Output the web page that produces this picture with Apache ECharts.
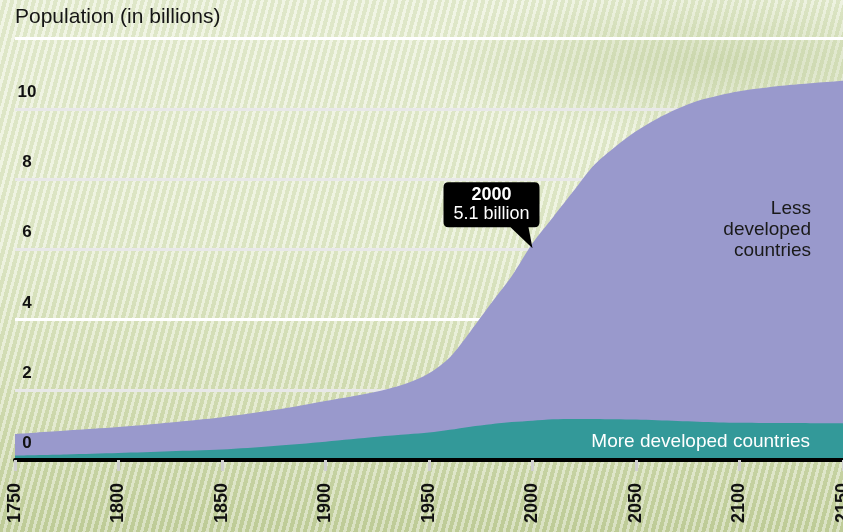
<!DOCTYPE html>
<html>
<head>
<meta charset="utf-8">
<script src="https://cdn.jsdelivr.net/npm/echarts@6/dist/echarts.min.js"></script>
<style>
  html, body { margin: 0; padding: 0; }
  #chart {
    width: 843px; height: 532px;
    background:
      radial-gradient(ellipse 300px 75px at 720px 62px, rgba(150,172,100,0.28), rgba(150,172,100,0) 100%),
      repeating-linear-gradient(105deg, rgba(255,255,255,0.38) 0px, rgba(255,255,255,0.38) 3px, rgba(140,160,90,0.10) 3px, rgba(140,160,90,0.10) 7px),
      linear-gradient(to bottom, #e8efd5 0%, #e4ecce 45%, #d6e0b8 75%, #c3d09d 100%);
  }
</style>
</head>
<body>
<div id="chart"></div>
<script>
// ---- data ----
var years = [1750, 1775, 1800, 1825, 1850, 1875, 1900, 1925, 1940, 1950, 1960, 1970, 1980, 1990, 2000,
             2010, 2020, 2030, 2040, 2050, 2060, 2070, 2080, 2090, 2100, 2125, 2150];
var moreDeveloped = [0.13, 0.16, 0.20, 0.25, 0.30, 0.40, 0.52, 0.66, 0.73, 0.78, 0.86, 0.95, 1.02, 1.08, 1.12,
                     1.16, 1.17, 1.17, 1.16, 1.15, 1.13, 1.11, 1.09, 1.07, 1.06, 1.05, 1.04];
var lessDeveloped = [0.61, 0.68, 0.74, 0.82, 0.92, 1.02, 1.16, 1.29, 1.47, 1.69, 2.06, 2.71, 3.44, 4.16, 5.05,
                     5.76, 6.50, 7.24, 7.76, 8.21, 8.58, 8.89, 9.14, 9.31, 9.44, 9.63, 9.76];
var yTicks = [0, 2, 4, 6, 8, 10, 12];
var xTicks = [1750, 1800, 1850, 1900, 1950, 2000, 2050, 2100, 2150];
var calloutYear = 2000;
var calloutText = ['2000', '5.1 billion'];
var titleText = 'Population (in billions)';
var lessLabel = ['Less', 'developed', 'countries'];
var moreLabel = 'More developed countries';

var FONT = 'Liberation Sans, Arial, sans-serif';
var chart = echarts.init(document.getElementById('chart'), null, {renderer: 'canvas'});

// the purple band sits on top of the teal band: its upper edge is the sum of both
var moreData = years.map(function (y, i) { return [y, moreDeveloped[i]]; });
var totalData = years.map(function (y, i) { return [y, moreDeveloped[i] + lessDeveloped[i]]; });
var ci = years.indexOf(calloutYear);
var calloutTotal = totalData[ci][1];

var option = {
  backgroundColor: 'transparent',
  animation: false,
  grid: { left: 15, right: 0, top: 38.5, bottom: 72, containLabel: false, outerBoundsMode: 'none' },
  xAxis: {
    type: 'value', min: xTicks[0], max: xTicks[xTicks.length - 1], interval: 50,
    z: 10, offset: 3,
    axisLine: { show: true, lineStyle: { color: '#000', width: 4 } },
    axisTick: { show: true, length: 11, lineStyle: { color: '#cfcfcf', width: 3 } },
    splitLine: { show: false },
    axisLabel: {
      rotate: 90, margin: 20, color: '#111', fontFamily: FONT, fontWeight: 'bold', fontSize: 18,
      showMaxLabel: true, showMinLabel: true, hideOverlap: false,
      formatter: function (v) { return xTicks.indexOf(v) >= 0 ? String(v) : ''; }
    }
  },
  yAxis: [{
    type: 'value', min: yTicks[0], max: yTicks[yTicks.length - 1], interval: 2,
    axisLine: { show: false }, axisTick: { show: false }, axisLabel: { show: false },
    splitLine: { show: true, lineStyle: { width: 3,
      color: ['#e8e8e8', '#e8e8e8', '#ffffff', '#e8e8e8', '#e8e8e8', '#e8e8e8', '#ffffff'] } }
  }, {
    type: 'value', min: yTicks[0], max: yTicks[yTicks.length - 1], interval: 2,
    position: 'left', z: 10,
    axisLine: { show: false }, axisTick: { show: false }, splitLine: { show: false },
    axisLabel: {
      inside: true, margin: 12, align: 'center', verticalAlign: 'bottom', padding: [0, 0, 8, 0],
      color: '#111', fontFamily: FONT, fontWeight: 'bold', fontSize: 17, showMaxLabel: false,
      formatter: function (v) { return v === 12 ? '' : String(v); }
    }
  }],
  series: [{
    name: 'Less developed countries', type: 'line', yAxisIndex: 0,
    data: totalData, smooth: 0.3, showSymbol: false, symbol: 'none',
    lineStyle: { width: 0 }, areaStyle: { color: '#9999cc', opacity: 1 }, z: 2,
    markPoint: {
      silent: true,
      data: [{
        coord: [calloutYear, calloutTotal],
        symbol: 'path://M5,0 L91,0 Q96,0 96,5 L96,40 Q96,45 91,45 L85,45 L89,66 L67,45 L5,45 Q0,45 0,40 L0,5 Q0,0 5,0 Z',
        symbolSize: [96, 66],
        symbolOffset: [-41, -28],
        itemStyle: { color: '#000' },
        label: {
          show: true, position: 'inside', offset: [0, -10.5],
          formatter: '{a|' + calloutText[0] + '}\n{b|' + calloutText[1] + '}',
          rich: {
            a: { color: '#fff', fontFamily: FONT, fontWeight: 'bold', fontSize: 18, lineHeight: 19, align: 'center' },
            b: { color: '#fff', fontFamily: FONT, fontSize: 18, lineHeight: 19, align: 'center' }
          }
        }
      }]
    }
  }, {
    name: 'More developed countries', type: 'line', yAxisIndex: 0,
    data: moreData, smooth: 0.3, showSymbol: false, symbol: 'none',
    lineStyle: { width: 0 }, areaStyle: { color: '#339999', opacity: 1 }, z: 3
  }],
  graphic: [{
    type: 'text', x: 15, y: 7, z: 20,
    style: { text: titleText, fill: '#151515', font: '21px ' + FONT }
  }, {
    type: 'text', x: 811, y: 198, z: 20,
    style: { text: lessLabel.join('\n'), fill: '#1a1a1a', font: '19px ' + FONT, align: 'right', lineHeight: 21 }
  }, {
    type: 'text', x: 810, y: 432, z: 20,
    style: { text: moreLabel, fill: '#ffffff', font: '19px ' + FONT, align: 'right' }
  }]
};
chart.setOption(option);
</script>
</body>
</html>
